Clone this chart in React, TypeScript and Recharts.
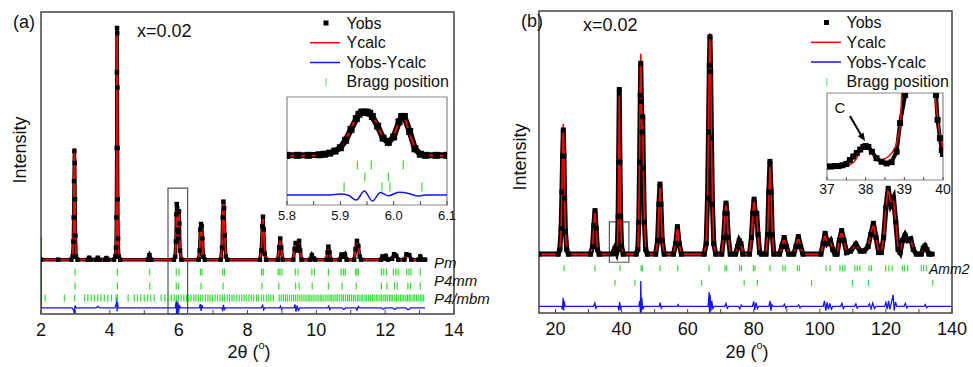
import React from "react";
import { ComposedChart, Line, Scatter, XAxis, YAxis, ReferenceArea } from "recharts";

const FONT = "'Liberation Sans', Arial, sans-serif";
const RED = "#ff0000";
const BLUE = "#1414ff";
const GREEN = "#33dd33";
const FRAME = "#444";

// ---- panel (a): [2theta, Yobs, Ycalc] ----
const profA = [
  [2.0, 18, 18], [2.5, 18, 18], [2.88, 18, 18], [2.92, 19, 19], [2.94, 24, 24], [2.95, 32, 33], [2.96, 44, 46],
  [2.97, 54, 55], [2.98, 50, 48], [2.99, 38, 36], [3.0, 26, 25], [3.02, 19, 19], [3.06, 18, 18],
  [3.36, 18, 18], [3.4, 18.6, 18.6], [3.44, 18, 18], [3.6, 18, 18], [3.65, 18.6, 18.6], [3.7, 18, 18],
  [3.86, 18, 18], [3.9, 18.5, 18.5], [3.94, 18, 18],
  [4.12, 18, 18], [4.16, 19, 19], [4.18, 22, 22], [4.19, 32, 31], [4.2, 55, 52], [4.205, 80, 78], [4.21, 94.7, 93],
  [4.215, 93, 92], [4.22, 75, 74], [4.225, 55, 52], [4.23, 38, 36], [4.24, 25, 24], [4.26, 19, 19], [4.3, 18, 18],
  [5.1, 18, 18], [5.15, 19.5, 19.5], [5.2, 18, 18],
  [5.86, 18, 18], [5.9, 19, 19], [5.92, 24, 24], [5.935, 33, 32], [5.945, 36.4, 35.5], [5.955, 35, 35], [5.97, 28, 28],
  [5.985, 25, 25], [5.995, 27, 28], [6.01, 34, 33], [6.02, 30, 29], [6.04, 21, 21], [6.08, 18, 18],
  [6.58, 18, 18], [6.61, 21, 21], [6.63, 28, 27], [6.65, 29.8, 29.5], [6.67, 29, 29], [6.69, 25, 24], [6.72, 19, 19], [6.76, 18, 18],
  [7.22, 18, 18], [7.26, 22, 22], [7.28, 32, 31], [7.3, 37.2, 37], [7.32, 35, 35], [7.34, 26, 26], [7.37, 19, 19], [7.41, 18, 18],
  [8.36, 18, 18], [8.4, 21, 21], [8.43, 29, 29], [8.45, 32.2, 32], [8.47, 28, 28], [8.5, 20, 20], [8.54, 18, 18],
  [8.88, 18, 18], [8.92, 22, 22], [8.95, 25, 24.8], [8.98, 22, 22], [9.02, 18, 18],
  [9.33, 18, 18], [9.37, 21.5, 21.5], [9.4, 23.5, 23.5], [9.44, 21, 21], [9.48, 22.5, 22.5], [9.5, 24.2, 24], [9.53, 21, 21], [9.57, 18, 18],
  [9.82, 18, 18], [9.87, 19.5, 19.5], [9.92, 18.4, 18.4], [9.96, 18, 18],
  [10.3, 18, 18], [10.33, 20.5, 20.5], [10.35, 22.3, 22.2], [10.38, 20.5, 20.5], [10.42, 18, 18],
  [10.68, 18, 18], [10.73, 19.6, 19.6], [10.78, 19, 19], [10.83, 19.8, 19.8], [10.88, 18, 18],
  [11.1, 18, 18], [11.14, 21.5, 21.5], [11.18, 24.2, 24], [11.22, 22.5, 22.5], [11.26, 19, 19], [11.3, 18, 18],
  [11.88, 18, 18], [11.92, 19, 19], [11.97, 18.4, 18.4], [12.02, 19.2, 19.2], [12.08, 18, 18],
  [12.2, 18.3, 18.3], [12.26, 19.8, 19.8], [12.32, 19.3, 19.3], [12.38, 18, 18],
  [12.56, 18, 18], [12.62, 19.8, 19.8], [12.7, 19.5, 19.5], [12.76, 18, 18],
  [12.97, 18, 18], [13.02, 19, 19], [13.08, 18, 18], [13.16, 18, 18],
];

const diffA = [
  [2.0, 25.5], [2.003, 2], [2.9, 2], [2.95, 1.2], [2.97, 0.2], [2.99, 2.8], [3.02, 2], [3.6, 2], [3.65, 2.5], [3.7, 2],
  [4.15, 2], [4.19, 3.5], [4.2, 5.2], [4.21, 0.8], [4.22, 4], [4.24, 2],
  [5.9, 2], [5.93, 4.2], [5.94, 0], [5.95, 4.5], [5.96, 0.2], [5.98, 3.8], [6.0, 0.5], [6.02, 3], [6.05, 2],
  [6.6, 2], [6.63, 3.3], [6.65, 1], [6.68, 3], [6.7, 2],
  [7.25, 2], [7.28, 1.2], [7.3, 3], [7.33, 1.5], [7.36, 2],
  [8.4, 2], [8.44, 2.9], [8.47, 1.4], [8.5, 2],
  [8.93, 2], [8.96, 2.6], [8.99, 1.6], [9.02, 2],
  [9.35, 2], [9.38, 3.2], [9.41, 0.8], [9.44, 2.8], [9.48, 1.2], [9.52, 2],
  [10.33, 2], [10.36, 2.6], [10.39, 1.5], [10.42, 2],
  [10.75, 2], [10.8, 1.5], [10.85, 2],
  [11.15, 2], [11.18, 1.3], [11.22, 2.5], [11.25, 2],
  [11.9, 2], [11.95, 1.6], [12.0, 2], [12.22, 2], [12.28, 1.5], [12.33, 2], [12.6, 2], [12.66, 1.4], [12.7, 1.6], [12.74, 2], [13.16, 2],
];

const braggPm = [2.99, 4.22, 5.16, 5.93, 6.01, 6.63, 6.68, 7.28, 7.33, 8.41, 8.46, 8.89, 8.94, 9.0, 9.39, 9.47, 9.87, 9.95,
  10.35, 10.72, 10.79, 10.84, 11.14, 11.18, 11.22, 11.89, 11.96, 12.04, 12.24, 12.31, 12.38, 12.63, 12.69, 12.75, 13.02];
const braggP4mm = [2.99, 4.22, 5.16, 5.93, 6.0, 6.65, 7.29, 8.42, 8.91, 9.4, 9.5, 9.88, 10.35, 10.75, 11.16, 11.89, 12.05,
  12.27, 12.35, 12.66, 12.74, 13.02];
const braggP4mbm = [2.12, 2.68, 2.98, 3.27, 3.36, 3.46, 3.55, 3.65, 3.74, 3.84, 3.94, 4.05, 4.18, 4.22, 4.53, 4.71, 4.8, 4.9,
  5.0, 5.1, 5.19, 5.29, 5.49, 5.6, 5.7, 5.79, 5.87, 5.93, 5.99, 6.07, 6.15, 6.23, 6.29, 6.36, 6.44, 6.5, 6.57, 6.64, 6.7,
  6.78, 6.85, 6.91, 6.98, 7.06, 7.13, 7.2, 7.27, 7.33, 7.41, 7.48, 7.55, 7.61, 7.69, 7.76, 7.83, 7.9, 7.96, 8.04, 8.11,
  8.18, 8.26, 8.32, 8.4, 8.47, 8.55, 8.62, 8.68, 8.75, 8.92, 8.98, 9.04, 9.1, 9.16, 9.22, 9.28, 9.34, 9.4, 9.46, 9.52,
  9.58, 9.64, 9.7, 9.76, 9.81, 9.87, 9.93, 9.99, 10.05, 10.11, 10.16, 10.22, 10.28, 10.34, 10.4, 10.45, 10.51, 10.57,
  10.62, 10.68, 10.74, 10.79, 10.85, 10.91, 10.96, 11.02, 11.08, 11.13, 11.19, 11.24, 11.3, 11.35, 11.41, 11.46, 11.52,
  11.57, 11.63, 11.68, 11.74, 11.79, 11.85, 11.9, 11.96, 12.01, 12.06, 12.12, 12.17, 12.22, 12.28, 12.33, 12.38, 12.44,
  12.49, 12.54, 12.6, 12.65, 12.7, 12.75, 12.81, 12.86, 12.91, 12.96, 13.02, 13.07, 13.12];

const ticksA = [2, 3, 4, 5, 6, 7, 8, 9, 10, 11, 12, 13, 14];

// inset (a): zoom 5.8 - 6.1
const insetA = [
  [5.8, 46, 45.5], [5.82, 46, 45.5], [5.84, 46, 45.5], [5.86, 46.5, 46], [5.87, 47, 46.5], [5.88, 48, 47.5], [5.89, 50, 49.5],
  [5.9, 53, 53], [5.91, 60, 60], [5.92, 70, 71], [5.93, 80, 82], [5.935, 84, 86], [5.94, 86, 86], [5.945, 86, 84],
  [5.95, 86, 84.5], [5.955, 85, 86], [5.96, 82, 84], [5.97, 73, 74], [5.98, 62, 62], [5.99, 58, 57], [6.0, 63, 64],
  [6.01, 77, 77], [6.015, 82, 83], [6.02, 82, 82], [6.03, 68, 66], [6.04, 52, 52], [6.05, 47, 47], [6.06, 46, 46],
  [6.08, 46, 45.5], [6.1, 46, 45.5],
];
const insetDiffA = [
  [5.8, 9.3], [5.88, 9.3], [5.9, 10.2], [5.915, 9], [5.93, 4.6], [5.945, 13], [5.96, 3.7], [5.975, 11.5], [5.99, 8.5],
  [6.01, 11.8], [6.03, 10.5], [6.045, 8.3], [6.06, 9.3], [6.1, 9.3],
];
const insetRow1A = [5.932, 5.958, 6.018];
const insetRow2A = [5.946, 5.99];
const insetRow3A = [5.907, 5.978, 5.993, 6.053];
const insetTicksA = [5.8, 5.85, 5.9, 5.95, 6.0, 6.05, 6.1];

// ---- panel (b) ----
const profB = [
  [15, 19.5, 19.5], [20.8, 19.5, 19.5], [21.3, 21, 21], [21.7, 28, 28], [21.95, 40, 41], [22.15, 52, 54], [22.36, 60.6, 62.6],
  [22.55, 52, 54], [22.75, 38, 39], [23.0, 27, 27], [23.4, 21, 21], [23.9, 19.5, 19.5],
  [30.6, 19.5, 19.5], [31.2, 22, 22], [31.6, 29, 29], [31.95, 33.9, 34], [32.3, 28, 28], [32.7, 21, 21], [33.2, 19.5, 19.5],
  [37.2, 19.6, 19.6], [38.0, 21.5, 21.8], [38.5, 20, 20], [38.7, 21, 21], [38.95, 32, 31], [39.1, 50, 48], [39.3, 74, 72],
  [39.5, 50, 49], [39.7, 32, 31], [40.0, 22, 22], [40.5, 19.5, 19.5],
  [44.4, 19.5, 19.5], [44.9, 21, 21], [45.2, 30, 31], [45.45, 50, 52], [45.65, 72, 76], [45.8, 82.7, 85.8], [46.0, 70, 72],
  [46.2, 60, 60], [46.4, 65, 62], [46.6, 48, 47], [46.9, 30, 30], [47.3, 21, 21], [47.8, 19.5, 19.5],
  [50.3, 19.5, 19.5], [50.9, 24, 24], [51.3, 36, 35], [51.6, 42.7, 41.5], [51.9, 36, 35], [52.3, 24, 24], [52.9, 19.5, 19.5],
  [55.7, 19.5, 19.5], [56.4, 23, 23], [56.9, 28.6, 28.6], [57.4, 23, 23], [58.1, 19.5, 19.5],
  [65.0, 19.5, 19.5], [65.6, 23, 23], [66.0, 38, 38], [66.3, 60, 62], [66.55, 82, 84], [66.75, 91.5, 92.6], [66.95, 80, 82],
  [67.2, 58, 58], [67.5, 36, 36], [67.9, 23, 23], [68.5, 19.5, 19.5],
  [70.3, 19.5, 19.5], [70.9, 25, 25], [71.3, 33, 33], [71.6, 36.4, 36.4], [71.9, 33, 33], [72.3, 25, 25], [72.9, 19.5, 19.5],
  [74.5, 19.5, 19.5], [75.1, 22, 22], [75.6, 24, 24], [76.1, 23, 23], [76.7, 19.5, 19.5],
  [78.7, 19.5, 19.5], [79.3, 25, 25], [79.7, 33, 33], [80.1, 37.7, 37.9], [80.5, 33, 33], [80.9, 33, 32], [81.3, 26, 26],
  [81.8, 20, 20], [82.3, 19.5, 19.5],
  [83.7, 19.5, 19.5], [84.2, 26, 26], [84.55, 40, 39], [84.9, 50.2, 48.4], [85.25, 40, 39], [85.6, 26, 26], [86.1, 19.5, 19.5],
  [87.8, 19.5, 19.5], [88.5, 22, 22], [89.2, 25, 25], [89.9, 22, 22], [90.6, 19.5, 19.5],
  [92.1, 19.5, 19.5], [92.8, 22, 22], [93.5, 25.3, 25.3], [94.2, 22, 22], [94.9, 19.5, 19.5],
  [100.3, 19.5, 19.5], [101.0, 23, 23], [101.6, 26.4, 26.4], [102.3, 23, 22.5], [103.2, 24, 24], [103.9, 21, 21], [104.6, 19.5, 19.5],
  [105.2, 19.5, 19.5], [105.9, 24, 24], [106.6, 27.3, 27.3], [107.3, 24, 24], [108.1, 20, 20], [109.3, 20.5, 20.5],
  [110.9, 22.8, 22.8], [112.2, 20.5, 20.5], [113.4, 20.5, 20.5], [114.6, 22, 22], [115.4, 26, 26], [116.2, 29.7, 29.7],
  [117.0, 25, 25], [117.8, 20, 20], [118.6, 20, 20],
  [119.3, 25, 25], [120.0, 35, 35], [120.7, 41.3, 41.5], [121.5, 36, 36], [122.3, 38, 38], [123.0, 30, 30], [123.7, 21, 21],
  [124.3, 20, 20], [125.0, 24, 24], [125.8, 25.8, 25.8], [126.6, 24, 24], [127.5, 24.5, 24.5], [128.3, 21, 21], [129.2, 19.5, 19.5],
  [130.7, 19.5, 19.5], [131.3, 21.5, 21.5], [131.8, 22.2, 22.2], [132.4, 21, 21], [133.0, 19.5, 19.5], [134, 19.5, 19.5],
];

const diffB = [
  [15, 2.2], [21.8, 2.2], [22.1, 1.2], [22.3, 5], [22.45, 0.8], [22.6, 4], [22.9, 2.2],
  [31.5, 2.2], [31.9, 3.3], [32.2, 1.6], [32.5, 2.2],
  [38.9, 2.2], [39.2, 0.8], [39.4, 3.6], [39.7, 1.5], [40, 2.2],
  [45.2, 2.2], [45.5, 4], [45.7, 0], [45.8, 10.6], [45.95, 0.3], [46.1, 5], [46.4, 1.2], [46.8, 2.2],
  [51.4, 2.2], [51.7, 3.4], [52, 1.6], [52.3, 2.2],
  [56.8, 2.2], [57.1, 2.8], [57.4, 2.2],
  [66.2, 2.2], [66.5, 6.9], [66.6, 0], [66.8, 6], [67.0, 0.5], [67.3, 4], [67.6, 1.5], [68, 2.2],
  [71.2, 2.2], [71.6, 3.2], [72, 1.6], [72.4, 2.2],
  [75.4, 2.2], [75.8, 1.4], [76.2, 2.6], [76.6, 2.2],
  [79.6, 2.2], [80.0, 3.8], [80.3, 1.0], [80.7, 3.4], [81.1, 1.5], [81.5, 2.2],
  [84.6, 2.2], [84.9, 4], [85.2, 0.8], [85.5, 2.8], [85.8, 2.2],
  [88.9, 2.2], [89.3, 2.9], [89.7, 1.6], [90.1, 2.2],
  [93.2, 2.2], [93.6, 2.7], [94, 1.7], [94.4, 2.2],
  [101, 2.2], [101.4, 4], [101.8, 0.8], [102.2, 3.5], [102.6, 1.2], [103, 3.2], [103.5, 1.3], [103.9, 2.2],
  [106.3, 2.2], [106.7, 3.2], [107.1, 1.5], [107.5, 2.2],
  [110.5, 2.2], [110.9, 3.0], [111.3, 1.6], [111.7, 2.2],
  [114.6, 2.2], [115, 3], [115.5, 1.4], [116, 3.3], [116.5, 1.5], [117, 2.2],
  [119.6, 2.2], [120, 3.5], [120.4, 1.3], [120.8, 4], [121.2, 1.2], [121.7, 3.6], [122.2, 6], [122.5, 0.8], [122.9, 3.6], [123.3, 2.2],
  [125.5, 2.2], [125.9, 3.2], [126.3, 1.7], [126.7, 2.2],
  [131.5, 2.2], [131.9, 2.8], [132.3, 1.8], [132.7, 2.2], [140, 2.2],
];

const braggAmm2 = [22.57, 31.95, 39.5, 45.9, 46.3, 51.6, 57.0, 66.45, 71.3, 71.8, 75.7, 76.3, 79.9, 80.4, 84.9, 88.8, 89.5,
  93.2, 93.8, 101.9, 103.1, 106.1, 106.9, 107.6, 110.6, 111.3, 112.1, 114.9, 115.6, 119.9, 120.9, 121.9, 125.0, 125.6,
  126.6, 130.7, 131.4, 132.2];
const braggSecond = [38.0, 44.05, 64.2, 77.1, 81.1, 97.5, 109.9, 114.7, 134.2];

const ticksB = [20, 30, 40, 50, 60, 70, 80, 90, 100, 110, 120, 130, 140];

// inset (b): zoom 37 - 40
const insetObsB = [
  [37.0, 15.5], [37.1, 15.5], [37.2, 16], [37.3, 16], [37.4, 17], [37.5, 18.5], [37.59, 23], [37.68, 27], [37.77, 31],
  [37.86, 35], [37.94, 38], [38.0, 39], [38.07, 38], [38.16, 32.5], [38.28, 25], [38.41, 21], [38.54, 19], [38.67, 20.5],
  [38.8, 32.5], [38.89, 65.5], [39.02, 97.7], [39.1, 140], [39.75, 140], [39.82, 97.7], [39.86, 69], [39.92, 48],
  [39.97, 34.5], [40.0, 30],
];
const insetCalcB = [
  [37.0, 14.6], [37.3, 14.8], [37.5, 16], [37.6, 18], [37.7, 21], [37.8, 28], [37.9, 36], [37.98, 41], [38.06, 38],
  [38.15, 31], [38.25, 25.5], [38.37, 23], [38.5, 24.5], [38.63, 28.7], [38.72, 34], [38.8, 42], [38.86, 55], [38.9, 65],
  [38.93, 97.7], [38.96, 140], [39.77, 140], [39.8, 100], [39.85, 75], [39.9, 58], [39.95, 46], [40.0, 38],
];
const insetTicksB = [37, 37.5, 38, 38.5, 39, 39.5, 40];
const insetYTicksB = [32.5, 55.5, 78.5];

// zoom boxes drawn on the main panels: [x1, x2, y1, y2]
const boxA = [5.69, 6.26, 0, 41.7];
const boxB = [36.3, 42.2, 16.8, 30.2];

const obsOf = (arr: number[][]) => arr.map((r) => ({ x: r[0], y: r[1] }));
const calcOf = (arr: number[][]) => arr.map((r) => ({ x: r[0], y: r[2] }));
const pairs = (arr: number[][]) => arr.map((r) => ({ x: r[0], y: r[1] }));
const row = (xs: number[], y: number) => xs.map((x) => ({ x, y }));

const squareDot = (size: number) => (p: any) => {
  if (p.cx == null || p.cy == null) return <g key={`n${p.index}`} />;
  return <rect key={`s${p.index}`} x={p.cx - size / 2} y={p.cy - size / 2} width={size} height={size} fill="#000" />;
};

const braggMark = (h: number) => (p: any) => (
  <line x1={p.cx} x2={p.cx} y1={p.cy - h} y2={p.cy + h} stroke={GREEN} strokeWidth={1.2} />
);

const axisTick = (isLabel: (v: number) => boolean, fmt: (v: number) => string, len: number, dy: number, fs: number) =>
  (p: any) => {
    const v = p.payload.value;
    return (
      <g>
        <line x1={p.x} x2={p.x} y1={p.y} y2={p.y - len} stroke={FRAME} strokeWidth={1} />
        {isLabel(v) ? (
          <text x={p.x} y={p.y + dy} textAnchor="middle" dominantBaseline="central" fontSize={fs} fontFamily={FONT} fill="#111">
            {fmt(v)}
          </text>
        ) : null}
      </g>
    );
  };

function PanelA() {
  return (
    <ComposedChart width={480} height={367} margin={{ top: 12, right: 26, left: 41, bottom: 23 }}>
      <XAxis dataKey="x" type="number" domain={[2, 14]} allowDataOverflow ticks={ticksA} interval={0} height={30}
        axisLine={false} tickLine={false} tickSize={0} tickMargin={0}
        tick={axisTick((v) => v % 2 === 0, (v) => String(v), 4, 16, 18)} />
      <YAxis dataKey="y" type="number" domain={[0, 100]} allowDataOverflow hide />
      <ReferenceArea x1={2} x2={14} y1={0} y2={100} fill="none" stroke={FRAME} strokeWidth={1.5} ifOverflow="visible" />
      <ReferenceArea x1={boxA[0]} x2={boxA[1]} y1={boxA[2]} y2={boxA[3]} fill="none" stroke="#555" strokeWidth={1.2} />
      <Line data={obsOf(profA)} dataKey="y" type="linear" stroke="#000" strokeWidth={3.5} dot={squareDot(4.5)} isAnimationActive={false} />
      <Line data={calcOf(profA)} dataKey="y" type="linear" stroke={RED} strokeWidth={1.8} dot={false} isAnimationActive={false} />
      <Scatter data={row(braggPm, 13.9)} shape={braggMark(3.5)} isAnimationActive={false} />
      <Scatter data={row(braggP4mm, 9.3)} shape={braggMark(3.5)} isAnimationActive={false} />
      <Scatter data={row(braggP4mbm, 5.3)} shape={braggMark(3.5)} isAnimationActive={false} />
      <Line data={pairs(diffA)} dataKey="y" type="linear" stroke={BLUE} strokeWidth={1.3} dot={false} isAnimationActive={false} />
    </ComposedChart>
  );
}

function PanelB() {
  return (
    <ComposedChart width={483} height={367} margin={{ top: 11, right: 21, left: 49, bottom: 24 }}>
      <XAxis dataKey="x" type="number" domain={[15, 140]} allowDataOverflow ticks={ticksB} interval={0} height={30}
        axisLine={false} tickLine={false} tickSize={0} tickMargin={0}
        tick={axisTick((v) => v % 20 === 0, (v) => String(v), 4, 16, 18)} />
      <YAxis dataKey="y" type="number" domain={[0, 100]} allowDataOverflow hide />
      <ReferenceArea x1={15} x2={140} y1={0} y2={100} fill="none" stroke={FRAME} strokeWidth={1.5} ifOverflow="visible" />
      <Line data={obsOf(profB)} dataKey="y" type="linear" stroke="#000" strokeWidth={5} dot={squareDot(5)} isAnimationActive={false} />
      <Line data={calcOf(profB)} dataKey="y" type="linear" stroke={RED} strokeWidth={1.6} dot={false} isAnimationActive={false} />
      <ReferenceArea x1={boxB[0]} x2={boxB[1]} y1={boxB[2]} y2={boxB[3]} fill="none" stroke="#555" strokeWidth={1.2} />
      <Scatter data={row(braggAmm2, 14.8)} shape={braggMark(3)} isAnimationActive={false} />
      <Scatter data={row(braggSecond, 10)} shape={braggMark(3)} isAnimationActive={false} />
      <Line data={pairs(diffB)} dataKey="y" type="linear" stroke={BLUE} strokeWidth={1.3} dot={false} isAnimationActive={false} />
    </ComposedChart>
  );
}

function InsetA() {
  return (
    <ComposedChart width={200} height={140} margin={{ top: 7, right: 23, left: 17, bottom: 0 }}>
      <XAxis dataKey="x" type="number" domain={[5.8, 6.1]} allowDataOverflow ticks={insetTicksA} interval={0} height={25}
        axisLine={false} tickLine={false} tickSize={0} tickMargin={0}
        tick={axisTick((v) => Math.round(v * 100) % 10 === 0, (v) => v.toFixed(1), 4, 10, 13)} />
      <YAxis dataKey="y" type="number" domain={[0, 100]} allowDataOverflow hide />
      <ReferenceArea x1={5.8} x2={6.1} y1={0} y2={100} fill="none" stroke="#888" strokeWidth={1.2} ifOverflow="visible" />
      <Line data={obsOf(insetA)} dataKey="y" type="linear" stroke="#000" strokeWidth={6} dot={squareDot(7)} isAnimationActive={false} />
      <Line data={calcOf(insetA)} dataKey="y" type="linear" stroke={RED} strokeWidth={2} dot={false} isAnimationActive={false} />
      <Scatter data={row(insetRow1A, 37)} shape={braggMark(4.5)} isAnimationActive={false} />
      <Scatter data={row(insetRow2A, 26)} shape={braggMark(4.5)} isAnimationActive={false} />
      <Scatter data={row(insetRow3A, 16.7)} shape={braggMark(4.5)} isAnimationActive={false} />
      <Line data={pairs(insetDiffA)} dataKey="y" type="monotone" stroke={BLUE} strokeWidth={1.5} dot={false} isAnimationActive={false} />
    </ComposedChart>
  );
}

function InsetB() {
  return (
    <ComposedChart width={150} height={115} margin={{ top: 7, right: 17, left: 17, bottom: 0 }}>
      <XAxis dataKey="x" type="number" domain={[37, 40]} allowDataOverflow ticks={insetTicksB} interval={0} height={21}
        axisLine={false} tickLine={false} tickSize={0} tickMargin={0}
        tick={axisTick((v) => Number.isInteger(v), (v) => String(v), 3, 9, 14)} />
      <YAxis dataKey="y" type="number" domain={[0, 100]} allowDataOverflow width={0} ticks={insetYTicksB}
        axisLine={false} tick={false} tickSize={-3} stroke={FRAME} />
      <ReferenceArea x1={37} x2={40} y1={0} y2={100} fill="none" stroke="#888" strokeWidth={1.2} ifOverflow="visible" />
      <Line data={pairs(insetObsB)} dataKey="y" type="linear" stroke="#000" strokeWidth={4} dot={squareDot(6)} isAnimationActive={false} />
      <Line data={pairs(insetCalcB)} dataKey="y" type="monotone" stroke={RED} strokeWidth={1.5} dot={false} isAnimationActive={false} />
    </ComposedChart>
  );
}

const T = (props: any) => (
  <text fontFamily={FONT} fill="#111" dominantBaseline="central" {...props} />
);

function Overlay() {
  return (
    <svg width={973} height={367} style={{ position: "absolute", left: 0, top: 0, pointerEvents: "none" }}>
      {/* panel (a) */}
      <T x={13} y={22} fontSize={18}>(a)</T>
      <T x={137} y={31} fontSize={18}>x=0.02</T>
      <T x={20} y={150} fontSize={18} textAnchor="middle" transform="rotate(-90 20 150)">Intensity</T>
      <T x={249} y={352} fontSize={18} textAnchor="middle">
        2θ (<tspan fontSize={11} dy={-7}>o</tspan><tspan dy={7}>)</tspan>
      </T>
      <rect x={323.5} y={20.5} width={5} height={5} fill="#000" />
      <T x={346.5} y={23} fontSize={16}>Yobs</T>
      <line x1={310} x2={340} y1={42.7} y2={42.7} stroke={RED} strokeWidth={1.5} />
      <T x={346.5} y={42.7} fontSize={16}>Ycalc</T>
      <line x1={310} x2={340} y1={62.5} y2={62.5} stroke={BLUE} strokeWidth={1.5} />
      <T x={346.5} y={62.5} fontSize={16}>Yobs-Ycalc</T>
      <line x1={326} x2={326} y1={78} y2={86} stroke="#88ee88" strokeWidth={1.5} />
      <T x={346.5} y={81.7} fontSize={16}>Bragg position</T>
      <T x={434} y={262} fontSize={15} fontStyle="italic">Pm</T>
      <T x={434} y={280} fontSize={15} fontStyle="italic">P4mm</T>
      <T x={434} y={298} fontSize={15} fontStyle="italic">P4/mbm</T>

      {/* panel (b) */}
      <T x={521} y={21} fontSize={18}>(b)</T>
      <T x={583} y={25} fontSize={18}>x=0.02</T>
      <T x={520} y={157} fontSize={18} textAnchor="middle" transform="rotate(-90 520 157)">Intensity</T>
      <T x={747} y={352} fontSize={18} textAnchor="middle">
        2θ (<tspan fontSize={11} dy={-7}>o</tspan><tspan dy={7}>)</tspan>
      </T>
      <rect x={824} y={20} width={5} height={5} fill="#000" />
      <T x={846.5} y={22.5} fontSize={16}>Yobs</T>
      <line x1={811} x2={841} y1={42.3} y2={42.3} stroke={RED} strokeWidth={1.5} />
      <T x={846.5} y={42.3} fontSize={16}>Ycalc</T>
      <line x1={811} x2={841} y1={62} y2={62} stroke={BLUE} strokeWidth={1.5} />
      <T x={846.5} y={62} fontSize={16}>Yobs-Ycalc</T>
      <line x1={826.7} x2={826.7} y1={78} y2={86} stroke="#88ee88" strokeWidth={1.5} />
      <T x={846.5} y={81.7} fontSize={16}>Bragg position</T>
      <T x={929} y={269} fontSize={14} fontStyle="italic">Amm2</T>
      <T x={840} y={107} fontSize={15} textAnchor="middle">C</T>
      <line x1={850} y1={116} x2={861} y2={135} stroke="#000" strokeWidth={2} />
      <polygon points="865,141 857.8,136.2 863.6,132.4" fill="#000" />
    </svg>
  );
}

export default function App() {
  return (
    <div style={{ position: "absolute", left: 0, top: 0, width: 973, height: 367, background: "#fff", fontFamily: FONT }}>
      <div style={{ position: "absolute", left: 0, top: 0 }}>
        <PanelA />
      </div>
      <div style={{ position: "absolute", left: 490, top: 0 }}>
        <PanelB />
      </div>
      <div style={{ position: "absolute", left: 287, top: 97, width: 160, height: 108, background: "#fff" }} />
      <div style={{ position: "absolute", left: 270, top: 90 }}>
        <InsetA />
      </div>
      <div style={{ position: "absolute", left: 827, top: 93, width: 116, height: 87, background: "#fff" }} />
      <div style={{ position: "absolute", left: 810, top: 86 }}>
        <InsetB />
      </div>
      <Overlay />
    </div>
  );
}
